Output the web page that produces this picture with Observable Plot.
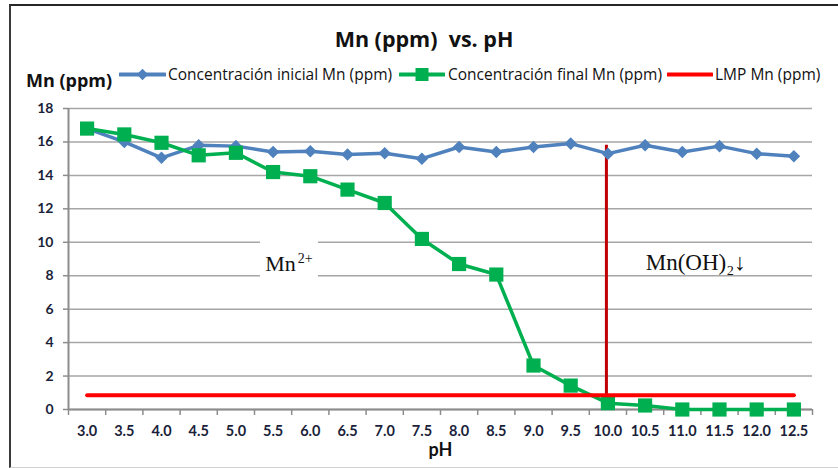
<!DOCTYPE html>
<html>
<head>
<meta charset="utf-8">
<script src="https://cdn.jsdelivr.net/npm/d3@7"></script>
<script src="https://cdn.jsdelivr.net/npm/@observablehq/plot@0.6"></script>
<style>
  html, body { margin: 0; padding: 0; background: #fff; }
  #wrap { position: relative; width: 838px; height: 468px; overflow: hidden; font-family: "Open Sans", Lato, sans-serif; }
  #border { position: absolute; left: 9px; top: 4px; width: 840px; height: 461px; border-top: 2px solid #262626; border-left: 2px solid #3a3a3a; border-bottom: 1px solid #d0d0d0; }
  #title { position: absolute; left: 0; width: 848px; top: 24px; text-align: center; font-weight: bold; font-size: 21.5px; color: #111; white-space: pre; }
  #ylab { position: absolute; left: 26px; top: 68px; font-weight: bold; font-size: 18px; color: #111; }
  .legtext { position: absolute; top: 63px; font-size: 15.5px; line-height: 22px; color: #111; white-space: nowrap; }
  .legsample { position: absolute; top: 66px; }
  #chart { position: absolute; left: 0; top: 92px; }
</style>
</head>
<body>
<div id="wrap">
  <div id="border"></div>
  <div id="title">Mn (ppm)  vs. pH</div>
  <div id="ylab">Mn (ppm)</div>
  <div id="legend"></div>
  <div id="chart"></div>
</div>
<script>
const ph = [3.0, 3.5, 4.0, 4.5, 5.0, 5.5, 6.0, 6.5, 7.0, 7.5, 8.0, 8.5, 9.0, 9.5, 10.0, 10.5, 11.0, 11.5, 12.0, 12.5];
const inicial = [16.8, 16.0, 15.05, 15.8, 15.75, 15.4, 15.45, 15.25, 15.33, 15.0, 15.7, 15.4, 15.7, 15.9, 15.3, 15.8, 15.4, 15.75, 15.3, 15.15];
const final = [16.8, 16.45, 15.95, 15.2, 15.35, 14.2, 13.95, 13.15, 12.35, 10.2, 8.7, 8.07, 2.63, 1.43, 0.38, 0.24, 0.0, 0.0, 0.0, 0.0];
const lmp = [0.85, 0.85, 0.85, 0.85, 0.85, 0.85, 0.85, 0.85, 0.85, 0.85, 0.85, 0.85, 0.85, 0.85, 0.85, 0.85, 0.85, 0.85, 0.85, 0.85];
const seriesNames = ["Concentración inicial Mn (ppm)", "Concentración final Mn (ppm)", "LMP Mn (ppm)"];
const colors = ["#4F81BD", "#00B050", "#FF0000"];
const yTicks = [0, 2, 4, 6, 8, 10, 12, 14, 16, 18];
const xDomain = [2.75, 12.75];
const boundaries = [2.75, 3.25, 3.75, 4.25, 4.75, 5.25, 5.75, 6.25, 6.75, 7.25, 7.75, 8.25, 8.75, 9.25, 9.75, 10.25, 10.75, 11.25, 11.75, 12.25, 12.75];
const precipPH = [10.0];
const precipTop = [15.8];
// annotation text boxes (data units)
const labelBoxes = [{x1: 5.33, x2: 6.11, y1: 7.55, y2: 10.45}];
const labelsMain = [
  {x: 5.6, y: 8.7, text: "Mn", size: 22},
  {x: 11.18, y: 8.8, text: "Mn(OH)₂↓", size: 23}
];
const labelsSup = [{x: 5.93, y: 9.0, text: "2+"}];

const rowsI = ph.map((p, i) => ({ph: p, v: inicial[i]}));
const rowsF = ph.map((p, i) => ({ph: p, v: final[i]}));
const rowsL = ph.map((p, i) => ({ph: p, v: lmp[i]}));

const axisColor = "#8c8c8c";
const tickColor = "#1b1f3a";
const serif = "'Liberation Serif', 'Times New Roman', serif";

const chart = Plot.plot({
  width: 838,
  height: 376,
  marginTop: 16,
  marginBottom: 59,
  marginLeft: 68,
  marginRight: 26,
  x: {type: "linear", domain: xDomain},
  y: {domain: [0, 18]},
  style: {fontFamily: "Lato, 'Open Sans', sans-serif", background: "transparent"},
  marks: [
    Plot.gridY(yTicks, {stroke: "#a6a6a6", strokeOpacity: 1, strokeWidth: 1.5}),
    Plot.rect(labelBoxes, {x1: "x1", x2: "x2", y1: "y1", y2: "y2", fill: "white"}),
    Plot.text(labelsMain.slice(0, 1), {x: "x", y: "y", text: "text", fontFamily: serif, fontSize: 22, fill: "#111"}),
    Plot.text(labelsMain.slice(1), {x: "x", y: "y", text: "text", fontFamily: serif, fontSize: 23, fill: "#111"}),
    Plot.text(labelsSup, {x: "x", y: "y", text: "text", fontFamily: serif, fontSize: 14, fill: "#111"}),
    Plot.ruleX([xDomain[0]], {stroke: axisColor, strokeWidth: 2}),
    Plot.ruleY([0], {stroke: axisColor, strokeWidth: 2}),
    Plot.axisY(yTicks, {tickSize: 5, tickPadding: 10, stroke: axisColor, strokeWidth: 1.5, fill: tickColor, fontWeight: "bold", fontSize: 14, label: null}),
    Plot.axisX(boundaries, {tickSize: 6, tickFormat: () => "", stroke: axisColor, strokeWidth: 1.5, label: null}),
    Plot.axisX(ph, {tickSize: 0, tickPadding: 16, tickFormat: d => d.toFixed(1), fill: tickColor, fontWeight: "bold", fontSize: 14.5, label: null}),
    Plot.text(["pH"], {frameAnchor: "bottom", dy: 46, text: d => d, fontWeight: "bold", fontSize: 18, fill: "#111"}),
    Plot.ruleX(precipPH, {x: d => d - 0.02, y1: 0, y2: (d, i) => precipTop[i], stroke: "#C00000", strokeWidth: 3}),
    Plot.line(rowsI, {x: "ph", y: "v", stroke: colors[0], strokeWidth: 3.5}),
    Plot.dot(rowsI, {x: "ph", y: "v", symbol: "square", rotate: 45, r: 5, fill: colors[0], stroke: null}),
    Plot.line(rowsF, {x: "ph", y: "v", stroke: colors[1], strokeWidth: 3.5}),
    Plot.dot(rowsF, {x: "ph", y: "v", symbol: "square", r: 8, fill: colors[1], stroke: null}),
    Plot.line(rowsL, {x: "ph", y: "v", stroke: colors[2], strokeWidth: 4, strokeLinecap: "round"})
  ]
});
document.getElementById("chart").appendChild(chart);

function legendSample(kind, color, w) {
  const c = w / 2;
  let m = "";
  if (kind === "diamond") m = `<rect x="${c - 4}" y="4.5" width="8" height="8" fill="${color}" transform="rotate(45 ${c} 8.5)"/>`;
  if (kind === "square") m = `<rect x="${c - 6.5}" y="2" width="13" height="13" fill="${color}"/>`;
  return `<svg width="${w}" height="17"><line x1="1" x2="${w - 1}" y1="8.5" y2="8.5" stroke="${color}" stroke-width="4" stroke-linecap="round"/>${m}</svg>`;
}
const kinds = ["diamond", "square", "none"];
const sampleX = [119, 399, 667];
const sampleW = [47, 46, 46];
const textX = [168, 448, 715];
const legend = document.getElementById("legend");
seriesNames.forEach((name, i) => {
  legend.insertAdjacentHTML("beforeend",
    `<div class="legsample" style="left:${sampleX[i]}px">${legendSample(kinds[i], colors[i], sampleW[i])}</div>` +
    `<div class="legtext" style="left:${textX[i]}px">${name}</div>`);
});
</script>
</body>
</html>
